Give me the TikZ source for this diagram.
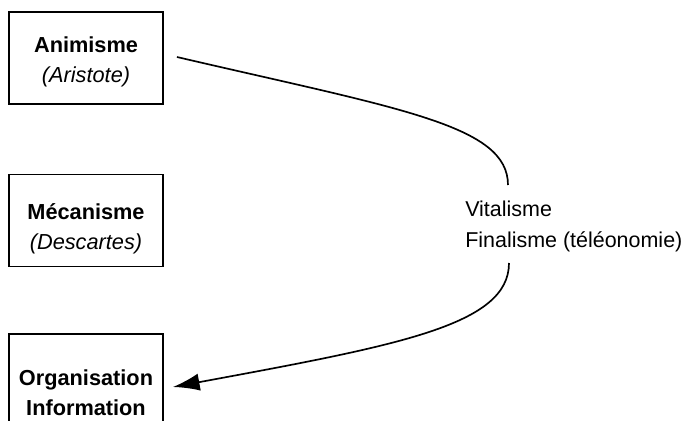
\documentclass[tikz,border=0pt]{standalone}
\usepackage{fontspec}
\setmainfont{Liberation Sans}
\usetikzlibrary{arrows.meta}

\tikzset{
  boite/.style={draw, line width=1.4pt, minimum width=115.5pt, minimum height=69pt, inner sep=0pt},
  texte/.style={inner sep=0pt, align=center, font=\fontsize{16.3}{22.3}\selectfont},
  legende/.style={inner sep=0pt, align=left, anchor=north west,
    font=\fontsize{16.1}{23}\selectfont},
  courbe/.style={line width=1.25pt}
}

\begin{document}
\begin{tikzpicture}[x=0.75pt,y=0.75pt,yscale=-1,xscale=1]
\useasboundingbox (0,0) rectangle (687,421);

%Shape: Rectangle [id:animisme]
\node[boite] (ani) at (86,58) {};
\node[texte] (aniT) at (86,62) {\textbf{Animisme}\\\textit{(Aristote)}};
%Shape: Rectangle [id:mecanisme]
\node[boite] (meca) at (86,220.5) {};
\node[texte] (mecaT) at (86,228.5) {\textbf{Mécanisme}\\\textit{(Descartes)}};
%Shape: Rectangle [id:organisation]
\node[boite, minimum height=87pt] (orga) at (86,392) {};
\node[texte] (orgaT) at (86,393) {\textbf{Organisation}\\\textbf{Information}};

%Text Node [id:vitalisme]
\node[legende] (vita) at (465,201) {Vitalisme\\Finalisme (téléonomie)};

%Curve Lines [id:haut]
\coordinate (hautfin) at (508,185);
\draw[courbe] ([xshift=9.75pt,yshift=-0.75pt]ani.east) .. controls (400,109) and (508,125) .. (hautfin) ;
%Curve Lines [id:bas]
\coordinate (basdeb) at (509,263);
\draw[courbe, -{Latex[length=20pt,width=13pt]}] (basdeb) .. controls (509,325) and (400,345) .. ([xshift=6.75pt,yshift=-3.75pt]orga.east) ;

\end{tikzpicture}
\end{document}
